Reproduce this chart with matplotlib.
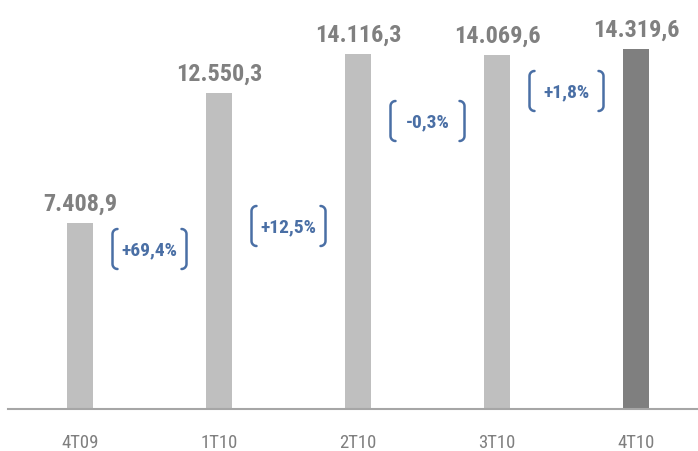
import numpy as np
import matplotlib.pyplot as plt

plt.rcParams['font.family'] = ['Roboto Condensed', 'DejaVu Sans']

quarters = ['4T09', '1T10', '2T10', '3T10', '4T10']
values = [7408.9, 12550.3, 14116.3, 14069.6, 14319.6]
value_labels = ['7.408,9', '12.550,3', '14.116,3', '14.069,6', '14.319,6']
growth_labels = ['+69,4%', '+12,5%', '-0,3%', '+1,8%']
growth_y = [6364, 7279, 11455, 12649]

bar_colors = ['#bfbfbf'] * 4 + ['#7f7f7f']
blue = '#4a6fa5'

fig = plt.figure(figsize=(6.98, 4.52), dpi=100)
ax = fig.add_axes([8 / 698, 42 / 452, 690 / 698, 410 / 452])

x = np.arange(len(quarters))
ax.bar(x, values, width=0.194, color=bar_colors)
ax.set_xlim(-0.518, 4.446)
ax.set_ylim(0, 16308)

for xi, v, lab in zip(x, values, value_labels):
    ax.annotate(lab, (xi, v), xytext=(0, 6), textcoords='offset points',
                ha='center', va='bottom', fontsize=17.5, fontweight='bold', color='#808080')


def bracket(ax, cx, cy, w=74, h=40, r=5):
    # w, h, r in pixels, centred on a data point
    cxd, cyd = ax.transData.transform((cx, cy))
    th = np.linspace(np.pi / 2, 0, 8)
    for side in (-1, 1):
        xs = list(side * (w / 2 - r + r * np.cos(th)))
        ys = list(h / 2 - r + r * np.sin(th))
        xs += list(side * (w / 2 - r + r * np.cos(th[::-1])))
        ys += list(-(h / 2 - r + r * np.sin(th[::-1])))
        ax.plot(np.array(xs) + cxd, np.array(ys) + cyd, color=blue, lw=1.8,
                transform=None, solid_capstyle='round', clip_on=False)


for i, (lab, gy) in enumerate(zip(growth_labels, growth_y)):
    ax.text(i + 0.5, gy, lab, ha='center', va='center', fontsize=14,
            fontweight='bold', color=blue)

fig.canvas.draw()
for i, gy in enumerate(growth_y):
    bracket(ax, i + 0.5, gy)

for s in ['top', 'right', 'left']:
    ax.spines[s].set_visible(False)
ax.spines['bottom'].set_color('#a6a6a6')
ax.spines['bottom'].set_linewidth(1.5)
ax.set_yticks([])
ax.set_xticks(x)
ax.set_xticklabels(quarters, fontsize=13.5, color='#7f7f7f')
ax.tick_params(axis='x', length=0, pad=17)

fig.savefig('out.png', dpi=100)
